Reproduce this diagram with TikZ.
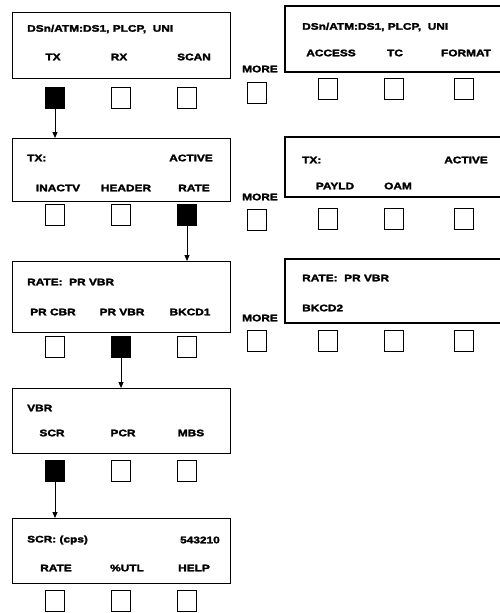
\documentclass[tikz,border=0pt]{standalone}
\usepackage{fontspec}
\newfontfamily\lbl[FakeStretch=1.25,FakeBold=2.5]{Liberation Sans Bold}
\usetikzlibrary{arrows.meta}
\begin{document}
\begin{tikzpicture}[x=1pt,y=-1pt,
  txt/.style={font=\lbl\fontsize{9.5}{10}\selectfont,inner sep=0pt},
  panel/.style={draw,line width=1.3pt},
  btn/.style={draw,line width=1.2pt,minimum width=19pt,minimum height=21pt,inner sep=0pt},
  sel/.style={btn,fill=black},
  conn/.style={line width=1pt,-{Triangle[length=6pt,width=5pt]}}]
\useasboundingbox (0,0) rectangle (500,613);
% ---------- row 1 ----------
\node[panel,minimum width=218pt,minimum height=66pt,anchor=north west] (p1) at (12,12) {};
\node[txt,anchor=west] (p1a) at (27,29) {DSn/ATM:DS1, PLCP,\ \ UNI};
\node[txt] (p1b) at (53,57) {TX};
\node[txt] (p1c) at (119,57) {RX};
\node[txt] (p1d) at (194,57) {SCAN};
\node[sel] (b11) at (55,98) {};
\node[btn] (b12) at (121,98) {};
\node[btn] (b13) at (187,98) {};
\node[txt] (m1) at (260,69) {MORE};
\node[btn] (b14) at (257,93) {};
\draw[panel] (500,6) -- (285,6) -- (285,72) -- (500,72);
\node[txt,anchor=west] (q1a) at (302,27) {DSn/ATM:DS1, PLCP,\ \ UNI};
\node[txt] (q1b) at (331,53) {ACCESS};
\node[txt] (q1c) at (395,53) {TC};
\node[txt] (q1d) at (466,53) {FORMAT};
\node[btn] (b15) at (328,89) {};
\node[btn] (b16) at (394,89) {};
\node[btn] (b17) at (464,89) {};
% ---------- row 2 ----------
\node[panel,minimum width=218pt,minimum height=63pt,anchor=north west] (p2) at (12,138) {};
\node[txt,anchor=west] (p2a) at (27,158) {TX:};
\node[txt,anchor=east] (p2b) at (213,158) {ACTIVE};
\node[txt] (p2c) at (58,188) {INACTV};
\node[txt] (p2d) at (126,188) {HEADER};
\node[txt] (p2e) at (194,188) {RATE};
\node[btn] (b21) at (55,215) {};
\node[btn] (b22) at (121,215) {};
\node[sel] (b23) at (187,215) {};
\node[txt] (m2) at (260,197) {MORE};
\node[btn] (b24) at (257,220) {};
\draw[panel] (500,137) -- (285,137) -- (285,197) -- (500,197);
\node[txt,anchor=west] (q2a) at (302,160) {TX:};
\node[txt,anchor=east] (q2b) at (488,160) {ACTIVE};
\node[txt] (q2c) at (335,186) {PAYLD};
\node[txt] (q2d) at (398,186) {OAM};
\node[btn] (b25) at (328,219) {};
\node[btn] (b26) at (394,219) {};
\node[btn] (b27) at (464,219) {};
% ---------- row 3 ----------
\node[panel,minimum width=218pt,minimum height=71pt,anchor=north west] (p3) at (12,261) {};
\node[txt,anchor=west] (p3a) at (27,282) {RATE:\ \ PR VBR};
\node[txt] (p3b) at (53,312) {PR CBR};
\node[txt] (p3c) at (122,312) {PR VBR};
\node[txt] (p3d) at (190,312) {BKCD1};
\node[btn] (b31) at (55,347) {};
\node[sel] (b32) at (121,347) {};
\node[btn] (b33) at (187,347) {};
\node[txt] (m3) at (260,318) {MORE};
\node[btn] (b34) at (257,341) {};
\draw[panel] (500,259) -- (285,259) -- (285,323) -- (500,323);
\node[txt,anchor=west] (q3a) at (302,278) {RATE:\ \ PR VBR};
\node[txt,anchor=west] (q3b) at (302,308) {BKCD2};
\node[btn] (b35) at (328,341) {};
\node[btn] (b36) at (394,341) {};
\node[btn] (b37) at (464,341) {};
% ---------- row 4 ----------
\node[panel,minimum width=218pt,minimum height=65pt,anchor=north west] (p4) at (12,388) {};
\node[txt,anchor=west] (p4a) at (27,408) {VBR};
\node[txt] (p4b) at (52,433) {SCR};
\node[txt] (p4c) at (123,433) {PCR};
\node[txt] (p4d) at (191,433) {MBS};
\node[sel] (b41) at (55,471) {};
\node[btn] (b42) at (121,471) {};
\node[btn] (b43) at (187,471) {};
% ---------- row 5 ----------
\node[panel,minimum width=218pt,minimum height=65pt,anchor=north west] (p5) at (12,518) {};
\node[txt,anchor=west] (p5a) at (27,540) {SCR: (cps)};
\node[txt,anchor=east] (p5b) at (220,540) {543210};
\node[txt] (p5c) at (56,568) {RATE};
\node[txt] (p5d) at (127,568) {\%UTL};
\node[txt] (p5e) at (194,568) {HELP};
\node[btn] (b51) at (55,601) {};
\node[btn] (b52) at (121,601) {};
\node[btn] (b53) at (187,601) {};
% ---------- connectors ----------
\draw[conn] (b11.south) -- (b11.south |- p2.north);
\draw[conn] (b23.south) -- (b23.south |- p3.north);
\draw[conn] (b32.south) -- (b32.south |- p4.north);
\draw[conn] (b41.south) -- (b41.south |- p5.north);
\end{tikzpicture}
\end{document}
